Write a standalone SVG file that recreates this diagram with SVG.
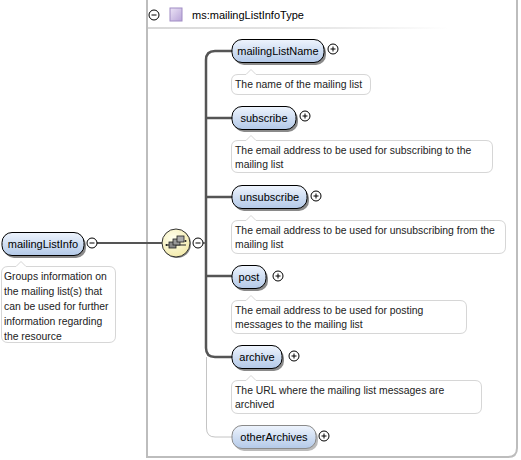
<svg xmlns="http://www.w3.org/2000/svg" width="521" height="460" viewBox="0 0 521 460">
<defs>
<linearGradient id="ng" x1="0" y1="0" x2="0" y2="1">
<stop offset="0" stop-color="#eef4fd"/>
<stop offset="1" stop-color="#b3c9e8"/>
</linearGradient>
<linearGradient id="sep" x1="0" y1="0" x2="1" y2="0">
<stop offset="0" stop-color="#d8d8d8"/>
<stop offset="0.6" stop-color="#e8e8e8"/>
<stop offset="1" stop-color="#ffffff"/>
</linearGradient>
<radialGradient id="sq" cx="0.4" cy="0.35" r="0.7">
<stop offset="0" stop-color="#fffff0"/>
<stop offset="1" stop-color="#f3eaa8"/>
</radialGradient>
<linearGradient id="pg" x1="0" y1="0" x2="1" y2="1">
<stop offset="0" stop-color="#ece4f6"/>
<stop offset="1" stop-color="#b8a4d8"/>
</linearGradient>
</defs>
<style>
text{font-family:"Liberation Sans",Arial,sans-serif;fill:#000}
.nt{font-size:11px;text-anchor:middle}
.at{font-size:10.4px;fill:#222}
.node{fill:url(#ng);stroke:#000;stroke-width:1}
.opt{fill:url(#ng);stroke:#8a8a8a;stroke-width:1}
.sh{fill:#8a8a8a}
.ann{fill:#fff;stroke:#d6d6d6;stroke-width:1}
.tog{fill:#fff;stroke:#000;stroke-width:1}
.tl{stroke:#000;stroke-width:1;fill:none}
.bus{stroke:#555;stroke-width:2.5;fill:none}
.thin{stroke:#c4c4c4;stroke-width:1;fill:none}
</style>

<g id="typebox">
<path d="M147 -2 V457 H508 Q517 457 517 448 V-2" fill="#fff" stroke="#bdbdbd" stroke-width="2"/>
<rect x="148" y="27" width="300" height="2" fill="url(#sep)"/>
<circle class="tog" cx="154" cy="15" r="5"/>
<line class="tl" x1="151.5" y1="15" x2="156.5" y2="15"/>
<rect x="170" y="8" width="12" height="13" fill="url(#pg)" stroke="#a08cc4" stroke-width="1"/>
<text x="192" y="19" style="font-size:11px">ms:mailingListInfoType</text>
</g>

<g id="connectors">
<line x1="97" y1="243" x2="162" y2="243" stroke="#555" stroke-width="2"/>
<line x1="203" y1="243" x2="206" y2="243" stroke="#555" stroke-width="1.5"/>
<path class="bus" d="M232 51 H215 Q206 51 206 60 V348 Q206 357 215 357 H232"/>
<line class="bus" x1="206" y1="118" x2="232" y2="118"/>
<line class="bus" x1="206" y1="197" x2="232" y2="197"/>
<line class="bus" x1="206" y1="276" x2="232" y2="276"/>
<path class="thin" d="M206.5 357 V428 Q206.5 437 215 437 H232"/>
</g>

<g id="mailingListInfo">
<rect class="sh" x="4" y="235" width="82" height="23" rx="10"/>
<rect class="node" x="2" y="232.5" width="82" height="23" rx="10"/>
<text class="nt" x="43" y="248">mailingListInfo</text>
<circle class="tog" cx="92" cy="243" r="5"/>
<line class="tl" x1="89.5" y1="243" x2="94.5" y2="243"/>
<path class="ann" d="M8 266.5 H16 L21 261.5 L26 266.5 H109 Q115.5 266.5 115.5 273 V336 Q115.5 342.5 109 342.5 H8 Q1.5 342.5 1.5 336 V273 Q1.5 266.5 8 266.5 Z"/>
<text class="at" x="4" y="280">Groups information on</text>
<text class="at" x="4" y="295">the mailing list(s) that</text>
<text class="at" x="4" y="310">can be used for further</text>
<text class="at" x="4" y="325">information regarding</text>
<text class="at" x="4" y="340">the resource</text>
</g>

<g id="sequence">
<circle cx="177" cy="244" r="14" fill="#888"/>
<circle cx="176" cy="243" r="14" fill="url(#sq)" stroke="#333" stroke-width="1"/>
<line x1="166" y1="245" x2="186" y2="245" stroke="#222" stroke-width="1"/>
<rect x="169" y="242" width="7" height="6" fill="#888" stroke="#222" stroke-width="0.8"/>
<rect x="173" y="239" width="7" height="6" fill="#999" stroke="#222" stroke-width="0.8"/>
<rect x="177" y="236" width="7" height="6" fill="#aaa" stroke="#222" stroke-width="0.8"/>
<circle cx="166.5" cy="245" r="1" fill="#222"/>
<circle cx="185.5" cy="241" r="1" fill="#222"/>
<circle class="tog" cx="198" cy="243" r="5"/>
<line class="tl" x1="195.5" y1="243" x2="200.5" y2="243"/>
</g>

<g id="mailingListName">
<rect class="sh" x="234" y="42" width="92" height="23" rx="10"/>
<rect class="node" x="232" y="39.5" width="92" height="23" rx="10"/>
<text class="nt" x="278" y="55">mailingListName</text>
<circle class="tog" cx="333" cy="49" r="5"/>
<path class="tl" d="M330.5 49 H335.5 M333 46.5 V51.5"/>
<path class="ann" d="M238 74.5 H246 L251 69.5 L256 74.5 H364 Q370.5 74.5 370.5 81 V88 Q370.5 94.5 364 94.5 H238 Q231.5 94.5 231.5 88 V81 Q231.5 74.5 238 74.5 Z"/>
<text class="at" x="235" y="88">The name of the mailing list</text>
</g>

<g id="subscribe">
<rect class="sh" x="234" y="109" width="64" height="23" rx="10"/>
<rect class="node" x="232" y="106.5" width="64" height="23" rx="10"/>
<text class="nt" x="264" y="122">subscribe</text>
<circle class="tog" cx="305" cy="116" r="5"/>
<path class="tl" d="M302.5 116 H307.5 M305 113.5 V118.5"/>
<path class="ann" d="M238 140.5 H246 L251 135.5 L256 140.5 H486 Q492.5 140.5 492.5 147 V166 Q492.5 172.5 486 172.5 H238 Q231.5 172.5 231.5 166 V147 Q231.5 140.5 238 140.5 Z"/>
<text class="at" x="235" y="154">The email address to be used for subscribing to the</text>
<text class="at" x="235" y="168">mailing list</text>
</g>

<g id="unsubscribe">
<rect class="sh" x="234" y="188" width="75" height="23" rx="10"/>
<rect class="node" x="232" y="185.5" width="75" height="23" rx="10"/>
<text class="nt" x="269.5" y="201">unsubscribe</text>
<circle class="tog" cx="316" cy="196" r="5"/>
<path class="tl" d="M313.5 196 H318.5 M316 193.5 V198.5"/>
<path class="ann" d="M238 220.5 H246 L251 215.5 L256 220.5 H499 Q505.5 220.5 505.5 227 V247 Q505.5 253.5 499 253.5 H238 Q231.5 253.5 231.5 247 V227 Q231.5 220.5 238 220.5 Z"/>
<text class="at" x="235" y="234">The email address to be used for unsubscribing from the</text>
<text class="at" x="235" y="248">mailing list</text>
</g>

<g id="post">
<rect class="sh" x="234" y="268" width="34" height="23" rx="10"/>
<rect class="node" x="232" y="265.5" width="34" height="23" rx="10"/>
<text class="nt" x="249" y="281">post</text>
<circle class="tog" cx="278" cy="276" r="5"/>
<path class="tl" d="M275.5 276 H280.5 M278 273.5 V278.5"/>
<path class="ann" d="M238 300.5 H246 L251 295.5 L256 300.5 H460 Q466.5 300.5 466.5 307 V327 Q466.5 333.5 460 333.5 H238 Q231.5 333.5 231.5 327 V307 Q231.5 300.5 238 300.5 Z"/>
<text class="at" x="235" y="314">The email address to be used for posting</text>
<text class="at" x="235" y="328">messages to the mailing list</text>
</g>

<g id="archive">
<rect class="sh" x="234" y="348" width="50" height="23" rx="10"/>
<rect class="node" x="232" y="345.5" width="50" height="23" rx="10"/>
<text class="nt" x="257" y="361">archive</text>
<circle class="tog" cx="294" cy="356" r="5"/>
<path class="tl" d="M291.5 356 H296.5 M294 353.5 V358.5"/>
<path class="ann" d="M238 380.5 H246 L251 375.5 L256 380.5 H475 Q481.5 380.5 481.5 387 V407 Q481.5 413.5 475 413.5 H238 Q231.5 413.5 231.5 407 V387 Q231.5 380.5 238 380.5 Z"/>
<text class="at" x="235" y="394">The URL where the mailing list messages are</text>
<text class="at" x="235" y="408">archived</text>
</g>

<g id="otherArchives">
<rect x="234" y="428" width="84" height="23" rx="10" fill="#bbb"/>
<rect class="opt" x="232" y="425.5" width="84" height="23" rx="10"/>
<text class="nt" x="274" y="441">otherArchives</text>
<circle class="tog" cx="324" cy="436" r="5"/>
<path class="tl" d="M321.5 436 H326.5 M324 433.5 V438.5"/>
</g>
</svg>
